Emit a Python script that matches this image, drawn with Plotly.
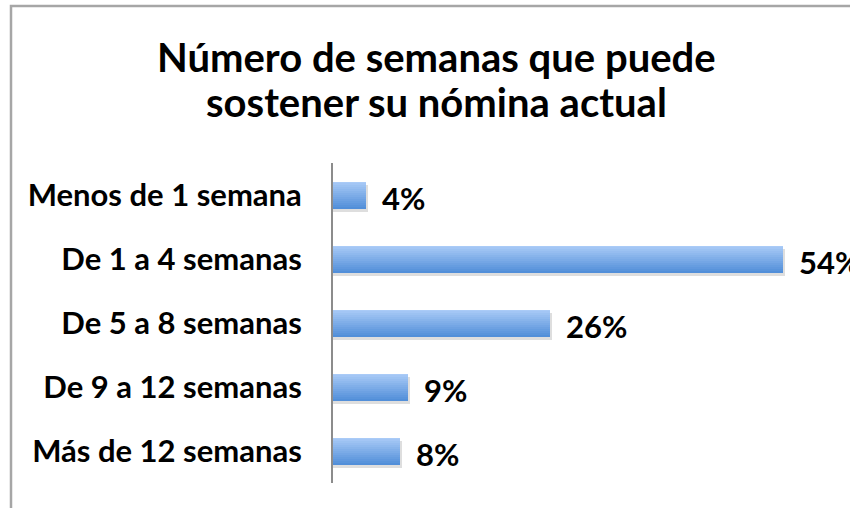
import plotly.graph_objects as go

categories = ["Menos de 1 semana", "De 1 a 4 semanas", "De 5 a 8 semanas",
              "De 9 a 12 semanas", "Más de 12 semanas"]
values = [4, 54, 26, 9, 8]
value_labels = ["4%", "54%", "26%", "9%", "8%"]
title_lines = ["Número de semanas que puede", "sostener su nómina actual"]

W, H = 850, 508
L, R, T, B = 333, 17, 163, 25
FONT = "Lato, 'Open Sans', sans-serif"

fig = go.Figure()

bar_h = 0.42
# shadow
fig.add_trace(go.Bar(
    x=[v + 0.25 for v in values], y=categories, orientation="h",
    width=bar_h, offset=-bar_h / 2 + 0.06,
    marker=dict(color="rgba(0,0,0,0.13)", line=dict(width=0)),
    hoverinfo="skip", showlegend=False))

# gradient stripes
top = (170, 203, 247)
bot = (82, 143, 217)
n = 14
for i in range(n):
    t = i / (n - 1)
    c = tuple(round(top[k] + (bot[k] - top[k]) * t) for k in range(3))
    h = bar_h / n
    fig.add_trace(go.Bar(
        x=values, y=categories, orientation="h",
        width=h * 1.08, offset=-bar_h / 2 + i * h,
        marker=dict(color="rgb(%d,%d,%d)" % c, line=dict(width=0)),
        hoverinfo="skip", showlegend=False))

for cat, v, lab in zip(categories, values, value_labels):
    fig.add_annotation(x=v, y=cat, text="<b>%s</b>" % lab, showarrow=False,
                       xanchor="left", xshift=14, yshift=-3,
                       font=dict(family=FONT, size=31, color="black"))

# title
px_to_paper_x = lambda px: (px - L) / (W - L - R)
px_to_paper_y = lambda py: (H - B - py) / (H - T - B)
for i, line in enumerate(title_lines):
    fig.add_annotation(xref="paper", yref="paper",
                       x=px_to_paper_x(436), y=px_to_paper_y(57 + 45 * i),
                       text="<b>%s</b>" % line, showarrow=False,
                       xanchor="center", yanchor="middle",
                       font=dict(family=FONT, size=40, color="black"))

# outer frame (partial, as cropped)
fig.add_shape(type="path", xref="paper", yref="paper",
              path="M %f %f L %f %f L %f %f" % (
                  px_to_paper_x(11), px_to_paper_y(520),
                  px_to_paper_x(11), px_to_paper_y(6),
                  px_to_paper_x(870), px_to_paper_y(6)),
              line=dict(color="#a6a6a6", width=2.5))

fig.update_layout(
    width=W, height=H, barmode="overlay", bargap=0,
    margin=dict(l=L, r=R, t=T, b=B, pad=0),
    paper_bgcolor="white", plot_bgcolor="white",
    showlegend=False,
    xaxis=dict(range=[0, 60], visible=False, fixedrange=True),
    yaxis=dict(categoryorder="array", categoryarray=categories,
               autorange="reversed", showline=True, linecolor="#8c8c8c",
               linewidth=2, ticks="", showgrid=False, zeroline=False,
               ticklabelstandoff=23, fixedrange=True,
               tickfont=dict(family=FONT, size=31, color="black"),
               tickprefix="<b>", ticksuffix="</b>"),
)

fig.write_html("out.html", config={"displayModeBar": False},
               post_script="document.body.style.margin='0';"
                           "document.body.style.overflow='hidden';")
